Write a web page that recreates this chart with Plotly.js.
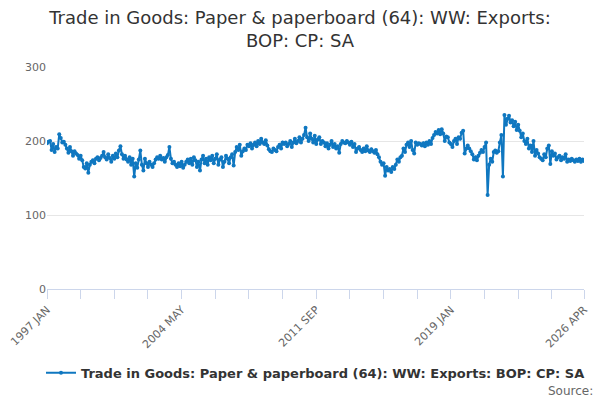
<!DOCTYPE html>
<html>
<head>
<meta charset="utf-8">
<script src="https://cdn.plot.ly/plotly-3.0.1.min.js"></script>
<style>
  html, body { margin: 0; padding: 0; background: #fff; }
  #chart { width: 600px; height: 400px; }
</style>
</head>
<body>
<div id="chart"></div>
<script>
// monthly values, 1997 JAN .. 2026 APR, one row per year
var seriesName = "Trade in Goods: Paper & paperboard (64): WW: Exports: BOP: CP: SA";
var startYear = 1997;
var monthNames = ["JAN","FEB","MAR","APR","MAY","JUN","JUL","AUG","SEP","OCT","NOV","DEC"];
var values = [
  197, 199, 200, 188, 196, 185, 192, 190, 209, 204, 198, 199,
  195, 190, 184, 192, 186, 180, 186, 183, 181, 176, 180, 174,
  165, 163, 170, 157, 168, 172, 174, 170, 176, 178, 174, 177,
  180, 185, 178, 175, 182, 177, 172, 180, 176, 183, 178, 187,
  193, 182, 176, 180, 175, 172, 178, 168, 176, 152, 170, 164,
  175, 187, 168, 160, 176, 170, 165, 172, 168, 165, 170, 175,
  178, 176, 180, 175, 177, 172, 178, 181, 192, 176, 170, 172,
  168, 165, 170, 166, 172, 164, 168, 172, 175, 170, 176, 168,
  178, 174, 165, 172, 160, 175, 180, 170, 176, 168, 178, 174,
  180, 170, 176, 182, 168, 175, 178, 165, 172, 180, 176, 170,
  178, 182, 167, 185, 192, 188, 195, 180, 186, 190, 188, 195,
  193, 197, 190, 195, 198, 193, 200, 196, 203, 198, 196, 201,
  194, 189, 186, 185, 190, 188, 186, 192, 195, 190, 198, 196,
  198, 193, 196, 200, 192, 198, 203, 197, 200, 205, 198, 203,
  208, 218, 205, 200, 210, 203, 198, 207, 196, 202, 205, 196,
  200, 198, 193, 197, 190, 195, 200, 192, 196, 190, 193, 184,
  196, 200, 198, 197, 200, 198, 195, 199, 192, 196, 185, 190,
  192, 188, 185, 190, 186, 193, 187, 185, 189, 186, 184, 188,
  182, 178, 172, 168, 170, 153, 165, 160, 162, 158, 165, 162,
  168, 175, 172, 178, 180, 190, 185, 195, 198, 192, 200, 188,
  183, 198, 195, 197, 196, 194, 197, 193, 198, 195, 200, 196,
  204, 208, 212, 210, 215, 209, 216, 210, 200, 206, 205, 198,
  196, 192, 200, 203, 196, 205, 203, 211, 214, 183, 190, 194,
  190, 186, 182, 175, 178, 174, 180, 184, 188, 185, 192, 198,
  127, 168, 176, 172, 185, 187, 184, 186, 198, 208, 152, 235,
  222, 230, 234, 225, 228, 220, 226, 215, 222, 214, 205, 210,
  200, 196, 203, 190, 194, 185, 200, 180, 188, 183, 178, 176,
  174, 182, 178, 190, 194, 169, 186, 180, 183, 175, 178, 180,
  174, 178, 176, 182, 172, 175, 173, 176, 174, 172, 175, 173,
  176, 172, 175, 173
];
var labeledTicks = ["1997 JAN", "2004 MAY", "2011 SEP", "2019 JAN", "2026 APR"];
var yTicks = [0, 100, 200, 300];

var months = [];
for (var i = 0; i < values.length; i++) {
    months.push((startYear + Math.floor(i / 12)) + " " + monthNames[i % 12]);
}

// a tick every 22 months, text only on every fourth one
var tickVals = [];
var tickText = [];
for (var k = 0; k < months.length; k += 22) {
    tickVals.push(months[k]);
    tickText.push(labeledTicks.indexOf(months[k]) >= 0 ? months[k] : "");
}
tickVals.push(months[months.length - 1]);
tickText.push(months[months.length - 1]);

var trace = {
    x: months,
    y: values,
    type: "scatter",
    mode: "lines+markers",
    name: seriesName,
    line: { color: "#0f77c0", width: 2 },
    marker: { color: "#0f77c0", size: 4 }
};

var layout = {
    width: 600,
    height: 400,
    font: { family: "DejaVu Sans, sans-serif", color: "#333" },
    title: {
        text: "Trade in Goods: Paper & paperboard (64): WW: Exports:<br>BOP: CP: SA",
        font: { size: 18, color: "#333" },
        x: 0.5,
        xanchor: "center",
        y: 0.94,
        yanchor: "top"
    },
    margin: { l: 47, r: 16, t: 67, b: 108 },
    paper_bgcolor: "#fff",
    plot_bgcolor: "#fff",
    showlegend: true,
    legend: {
        orientation: "h",
        x: 0.5,
        xanchor: "center",
        y: -0.31,
        yanchor: "top",
        font: { size: 13, color: "#333", weight: "bold" }
    },
    xaxis: {
        type: "category",
        automargin: false,
        tickmode: "array",
        tickvals: tickVals,
        ticktext: tickText,
        tickangle: -45,
        ticks: "outside",
        ticklen: 9,
        tickcolor: "#ccd6eb",
        showline: true,
        linecolor: "#ccd6eb",
        linewidth: 1,
        showgrid: false,
        zeroline: false,
        tickfont: { size: 11, color: "#666" },
        range: [0, months.length - 1]
    },
    yaxis: {
        automargin: false,
        range: [0, 300],
        tickvals: yTicks,
        gridcolor: "#e6e6e6",
        zeroline: false,
        showline: false,
        ticks: "",
        tickfont: { size: 11, color: "#666" }
    },
    annotations: [{
        text: "Source:",
        xref: "paper",
        yref: "paper",
        x: 1.02,
        xanchor: "right",
        y: -0.42,
        yanchor: "top",
        showarrow: false,
        font: { size: 12, color: "#666" }
    }]
};

Plotly.newPlot("chart", [trace], layout, { displayModeBar: false });
</script>
</body>
</html>
